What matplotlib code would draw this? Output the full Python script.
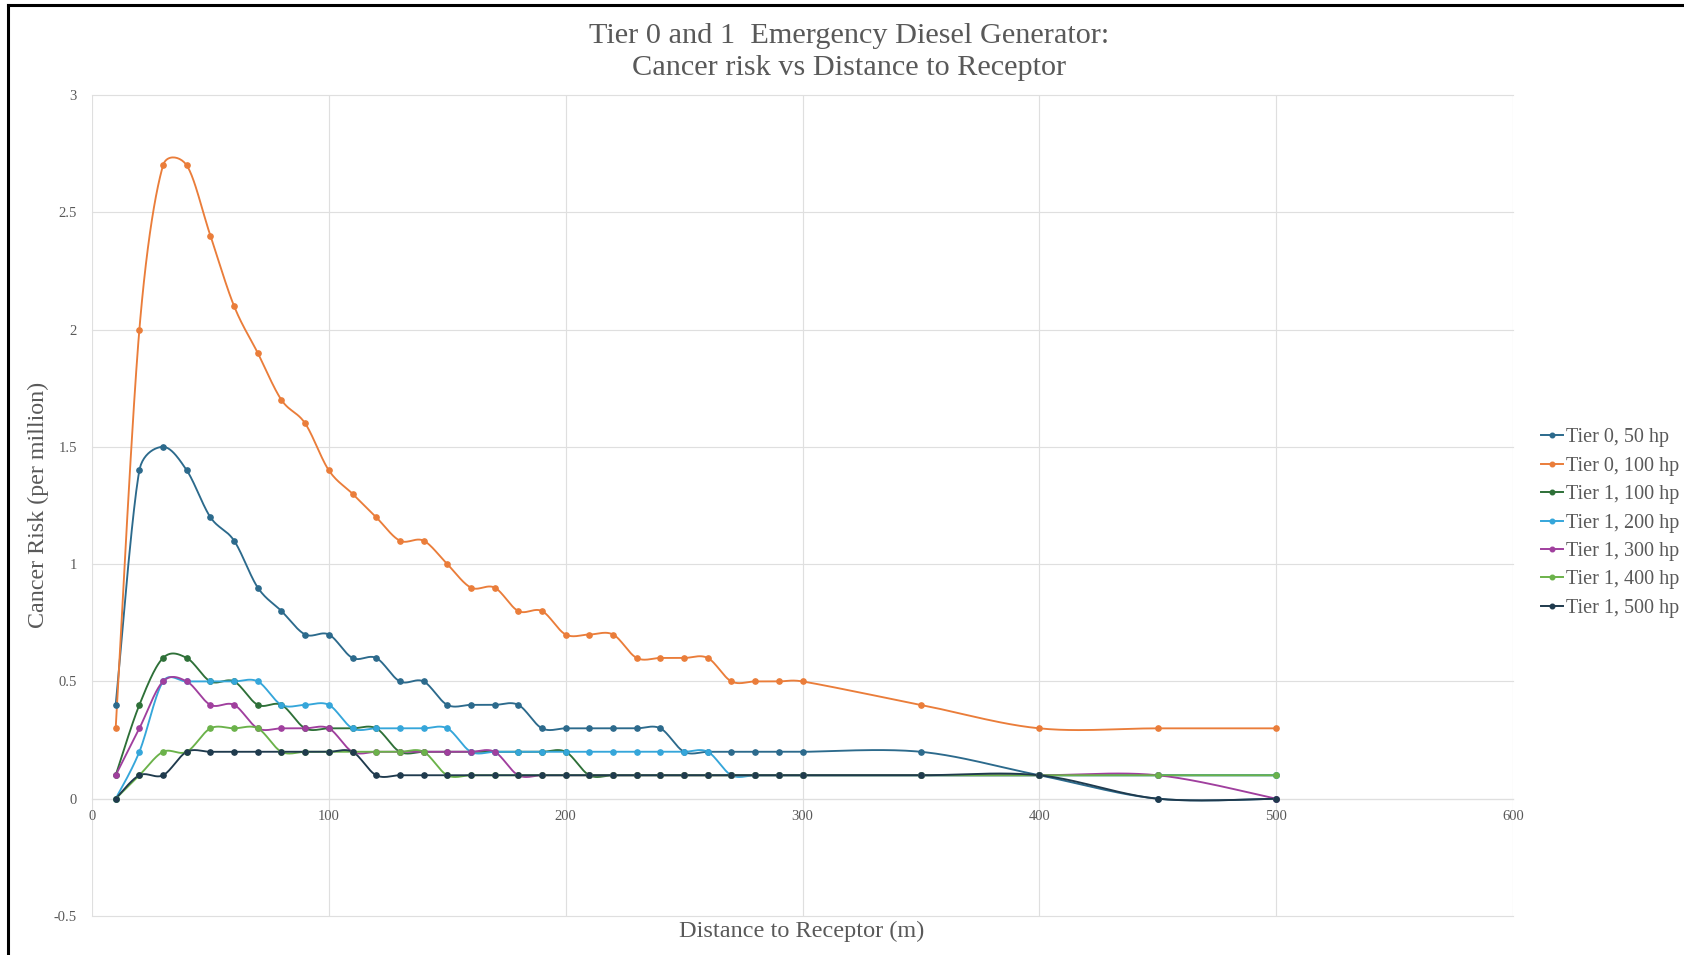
import numpy as np
import matplotlib
matplotlib.use("Agg")
import matplotlib.pyplot as plt
from matplotlib.lines import Line2D

# ---------------- data ----------------
distance = [10, 20, 30, 40, 50, 60, 70, 80, 90, 100,
            110, 120, 130, 140, 150, 160, 170, 180, 190, 200,
            210, 220, 230, 240, 250, 260, 270, 280, 290, 300,
            350, 400, 450, 500]

tier0_50 = [0.4, 1.4, 1.5, 1.4, 1.2, 1.1, 0.9, 0.8, 0.7, 0.7,
            0.6, 0.6, 0.5, 0.5, 0.4, 0.4, 0.4, 0.4, 0.3, 0.3,
            0.3, 0.3, 0.3, 0.3, 0.2, 0.2, 0.2, 0.2, 0.2, 0.2,
            0.2, 0.1, 0.0, 0.0]
tier0_100 = [0.3, 2.0, 2.7, 2.7, 2.4, 2.1, 1.9, 1.7, 1.6, 1.4,
             1.3, 1.2, 1.1, 1.1, 1.0, 0.9, 0.9, 0.8, 0.8, 0.7,
             0.7, 0.7, 0.6, 0.6, 0.6, 0.6, 0.5, 0.5, 0.5, 0.5,
             0.4, 0.3, 0.3, 0.3]
tier1_100 = [0.1, 0.4, 0.6, 0.6, 0.5, 0.5, 0.4, 0.4, 0.3, 0.3,
             0.3, 0.3, 0.2, 0.2, 0.2, 0.2, 0.2, 0.2, 0.2, 0.2,
             0.1, 0.1, 0.1, 0.1, 0.1, 0.1, 0.1, 0.1, 0.1, 0.1,
             0.1, 0.1, 0.1, 0.1]
tier1_200 = [0.0, 0.2, 0.5, 0.5, 0.5, 0.5, 0.5, 0.4, 0.4, 0.4,
             0.3, 0.3, 0.3, 0.3, 0.3, 0.2, 0.2, 0.2, 0.2, 0.2,
             0.2, 0.2, 0.2, 0.2, 0.2, 0.2, 0.1, 0.1, 0.1, 0.1,
             0.1, 0.1, 0.1, 0.1]
tier1_300 = [0.1, 0.3, 0.5, 0.5, 0.4, 0.4, 0.3, 0.3, 0.3, 0.3,
             0.2, 0.2, 0.2, 0.2, 0.2, 0.2, 0.2, 0.1, 0.1, 0.1,
             0.1, 0.1, 0.1, 0.1, 0.1, 0.1, 0.1, 0.1, 0.1, 0.1,
             0.1, 0.1, 0.1, 0.0]
tier1_400 = [0.0, 0.1, 0.2, 0.2, 0.3, 0.3, 0.3, 0.2, 0.2, 0.2,
             0.2, 0.2, 0.2, 0.2, 0.1, 0.1, 0.1, 0.1, 0.1, 0.1,
             0.1, 0.1, 0.1, 0.1, 0.1, 0.1, 0.1, 0.1, 0.1, 0.1,
             0.1, 0.1, 0.1, 0.1]
tier1_500 = [0.0, 0.1, 0.1, 0.2, 0.2, 0.2, 0.2, 0.2, 0.2, 0.2,
             0.2, 0.1, 0.1, 0.1, 0.1, 0.1, 0.1, 0.1, 0.1, 0.1,
             0.1, 0.1, 0.1, 0.1, 0.1, 0.1, 0.1, 0.1, 0.1, 0.1,
             0.1, 0.1, 0.0, 0.0]

series_labels = ["Tier 0, 50 hp", "Tier 0, 100 hp", "Tier 1, 100 hp",
                 "Tier 1, 200 hp", "Tier 1, 300 hp", "Tier 1, 400 hp",
                 "Tier 1, 500 hp"]
series_values = [tier0_50, tier0_100, tier1_100, tier1_200,
                 tier1_300, tier1_400, tier1_500]
series_colors = ["#2C6A8C", "#EA7D3A", "#2E7038", "#35A6DA",
                 "#A03F9E", "#6BB24A", "#1F3A4D"]

x_ticks = [0, 100, 200, 300, 400, 500, 600]
y_ticks = [-0.5, 0, 0.5, 1, 1.5, 2, 2.5, 3]
y_tick_labels = ["-0.5", "0", "0.5", "1", "1.5", "2", "2.5", "3"]

title = "Tier 0 and 1  Emergency Diesel Generator:\nCancer risk vs Distance to Receptor"
x_label = "Distance to Receptor (m)"
y_label = "Cancer Risk (per million)"

# axes geometry in pixels (used for the screen-space smoothing)
AX_L, AX_R, AX_T, AX_B = 92, 1513, 95, 916
X_MIN, X_MAX, Y_MIN, Y_MAX = 0, 600, -0.5, 3
SX = (AX_R - AX_L) / (X_MAX - X_MIN)
SY = (AX_B - AX_T) / (Y_MAX - Y_MIN)


def smooth_curve(xs, ys, n=24):
    """Excel-like smoothed line: cubic Bezier through the points, with
    Catmull-Rom style handles (1/6) capped at half the segment length,
    computed in screen space."""
    p = np.column_stack([np.asarray(xs, float) * SX, np.asarray(ys, float) * SY])
    m = len(p)
    out = [p[0]]
    t = np.linspace(0, 1, n + 1)[1:][:, None]
    for i in range(m - 1):
        p0 = p[i - 1] if i > 0 else p[i]
        p1 = p[i]
        p2 = p[i + 1]
        p3 = p[i + 2] if i + 2 < m else p[i + 1]
        seg_len = np.hypot(*(p2 - p1))
        h1 = (p2 - p0) / 6.0
        h2 = (p3 - p1) / 6.0
        l1 = np.hypot(*h1)
        l2 = np.hypot(*h2)
        if l1 > seg_len / 2 and l1 > 0:
            h1 = h1 * (seg_len / 2) / l1
        if l2 > seg_len / 2 and l2 > 0:
            h2 = h2 * (seg_len / 2) / l2
        c1 = p1 + h1
        c2 = p2 - h2
        seg = ((1 - t) ** 3) * p1 + 3 * ((1 - t) ** 2) * t * c1 \
            + 3 * (1 - t) * t ** 2 * c2 + t ** 3 * p2
        out.extend(seg)
    out = np.array(out)
    return out[:, 0] / SX, out[:, 1] / SY


serif = ["Liberation Serif", "DejaVu Serif"]
plt.rcParams["font.family"] = serif
text_gray = "#595959"
grid_gray = "#DFDFDF"

fig = plt.figure(figsize=(16.84, 9.55), dpi=100)
ax = fig.add_axes([AX_L / 1684, 1 - AX_B / 955, (AX_R - AX_L) / 1684,
                   (AX_B - AX_T) / 955])

for vals, lab, col in zip(series_values, series_labels, series_colors):
    sx, sy = smooth_curve(distance, vals)
    ax.plot(sx, sy, color=col, lw=1.35, solid_capstyle="round", zorder=3)
    ax.plot(distance, vals, linestyle="none", marker="o", markersize=3.8,
            color=col, zorder=4)

ax.set_xlim(X_MIN, X_MAX)
ax.set_ylim(Y_MIN, Y_MAX)
ax.set_xticks(x_ticks)
ax.set_yticks(y_ticks)
ax.set_yticklabels(y_tick_labels)
ax.grid(True, color=grid_gray, lw=0.85)
ax.set_axisbelow(True)
for gl in ax.get_xgridlines() + ax.get_ygridlines():
    gl.set_clip_on(False)

for s in ["left", "right", "top"]:
    ax.spines[s].set_visible(False)
ax.spines["bottom"].set_position(("data", 0))
ax.spines["bottom"].set_color(grid_gray)
ax.spines["bottom"].set_linewidth(0.85)
ax.tick_params(axis="both", length=0, labelsize=10.5, labelcolor=text_gray)
ax.tick_params(axis="y", pad=11)
ax.tick_params(axis="x", pad=8)

# titles and axis labels
fig.text(849 / 1684, 1 - 52 / 955, title, ha="center", va="center",
         fontsize=21.8, color=text_gray, linespacing=1.3)
fig.text(802 / 1684, 1 - 931 / 955, x_label, ha="center", va="center",
         fontsize=17.5, color=text_gray)
fig.text(38 / 1684, 1 - 505 / 955, y_label, ha="center", va="center",
         rotation=90, fontsize=17.3, color=text_gray)

# legend
handles = [Line2D([0], [0], color=c, lw=1.4, marker="o", markersize=3.3)
           for c in series_colors]
leg = fig.legend(handles, series_labels, loc="center left",
                 bbox_to_anchor=(1541 / 1684, 1 - 523 / 955),
                 frameon=False, fontsize=14.5, handlelength=1.1,
                 handletextpad=0.15, labelspacing=0.46, borderpad=0,
                 borderaxespad=0)
for t in leg.get_texts():
    t.set_color(text_gray)

# outer frame (left and top edges visible in the screenshot)
fig.add_artist(Line2D([8 / 1684, 8 / 1684], [0, 1 - 5 / 955],
                      transform=fig.transFigure, color="black", lw=2.2))
fig.add_artist(Line2D([8 / 1684, 1], [1 - 5 / 955, 1 - 5 / 955],
                      transform=fig.transFigure, color="black", lw=2.2))

fig.savefig("out.png", dpi=100, facecolor="white")
